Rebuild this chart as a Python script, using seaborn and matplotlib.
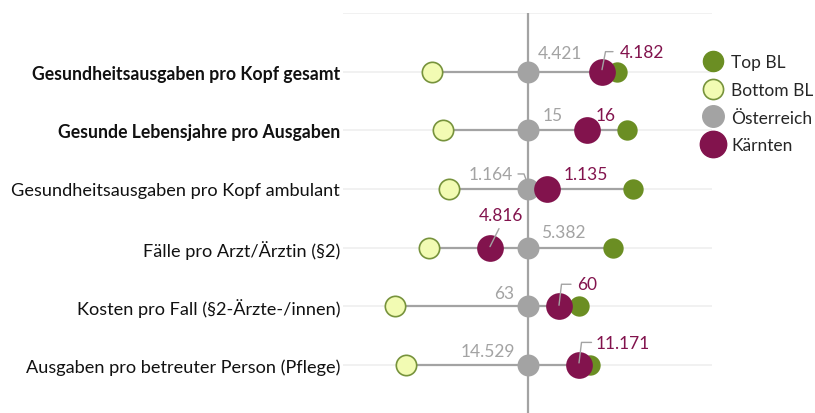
import numpy as np
import pandas as pd
import seaborn as sns
import matplotlib.pyplot as plt
from matplotlib.lines import Line2D

# indicators (top to bottom)
indicators = [
    "Gesundheitsausgaben pro Kopf gesamt",
    "Gesunde Lebensjahre pro Ausgaben",
    "Gesundheitsausgaben pro Kopf ambulant",
    "Fälle pro Arzt/Ärztin (§2)",
    "Kosten pro Fall (§2-Ärzte-/innen)",
    "Ausgaben pro betreuter Person (Pflege)",
]
bold_rows = [True, True, False, False, False, False]

# relative position vs. Austria (Österreich = 0)
top_bl = [89, 99, 105, 85, 51, 62]
bottom_bl = [-96, -85, -79, -99, -133, -122]
oesterreich = [0, 0, 0, 0, 0, 0]
kaernten = [74, 59, 19, -38, 31, 51]

# value labels
oe_labels = ["4.421", "15", "1.164", "5.382", "63", "14.529"]
kt_labels = ["4.182", "16", "1.135", "4.816", "60", "11.171"]

pos = np.arange(1, len(indicators) + 1)
df = pd.DataFrame({"row": pos, "top": top_bl, "bottom": bottom_bl,
                   "oe": oesterreich, "kt": kaernten})

sns.set_style("white")
plt.rcParams["font.family"] = ["Lato", "DejaVu Sans"]

GREEN = "#6b8e23"
LIGHT = "#f2fbb3"
LIGHT_EDGE = "#77933c"
GREY = "#a3a3a3"
PURPLE = "#82134d"

fig = plt.figure(figsize=(8.15, 4.14), dpi=100)
ax = fig.add_axes([343 / 815, 0, 369 / 815, 1 - 14 / 414])
ax.set_xlim(-185, 184)
ax.set_ylim(6.82, 0)

# grid lines
for g in range(0, 7):
    ax.axhline(g, color="#efefef", lw=1.2, zorder=0)
ax.axvline(0, color=GREY, lw=1.6, zorder=1)

# range lines
lo = df[["top", "bottom", "oe", "kt"]].min(axis=1)
hi = df[["top", "bottom", "oe", "kt"]].max(axis=1)
ax.hlines(df["row"], lo, hi, color=GREY, lw=1.6, zorder=1)

sns.scatterplot(data=df, x="bottom", y="row", color=LIGHT, edgecolor=LIGHT_EDGE,
                linewidth=1.2, s=215, ax=ax, zorder=3)
sns.scatterplot(data=df, x="top", y="row", color=GREEN, edgecolor=GREEN,
                linewidth=0, s=215, ax=ax, zorder=3)
sns.scatterplot(data=df, x="oe", y="row", color=GREY, edgecolor=GREY,
                linewidth=0, s=250, ax=ax, zorder=4)
sns.scatterplot(data=df, x="kt", y="row", color=PURPLE, edgecolor=PURPLE,
                linewidth=0, s=370, ax=ax, zorder=5)

# label offsets in pixels (dx, dy up) and leader lines
oe_off = [(32, 19), (25, 15), (-37, 15), (35, 16), (-24, 13), (-40, 14)]
kt_off = [(40, 20), (19, 15), (39, 15), (11, 33), (28, 22), (44, 22)]
kt_lead = {
    0: [(0, 2), (3.5, 20), (11, 20)],
    3: [(0, 1), (9, 19)],
    4: [(0, 1), (2.5, 22), (12, 22)],
    5: [(0, 2), (2.5, 22.5), (12.5, 22.5)],
}
oe_lead = {2: [(-10, 15), (-4, 15), (0, 4)]}

for i in range(len(indicators)):
    ax.annotate(oe_labels[i], (df["oe"][i], df["row"][i]), xytext=oe_off[i],
                textcoords="offset pixels", ha="center", va="center",
                color=GREY, fontsize=12.5, zorder=6)
    ax.annotate(kt_labels[i], (df["kt"][i], df["row"][i]), xytext=kt_off[i],
                textcoords="offset pixels", ha="center", va="center",
                color=PURPLE, fontsize=12.5, zorder=6)

fig.canvas.draw()
def leader(x, y, pts, color):
    px, py = ax.transData.transform((x, y))
    xs = [px + dx for dx, dy in pts]
    ys = [py + dy for dx, dy in pts]
    ax.add_line(Line2D(xs, ys, transform=None, color=color, lw=1.0, zorder=6))

for i, pts in kt_lead.items():
    leader(df["kt"][i], df["row"][i], pts, GREY)
for i, pts in oe_lead.items():
    leader(df["oe"][i], df["row"][i], pts, GREY)

ax.set_yticks(pos)
ax.set_yticklabels(indicators, fontsize=13.1, color="#111111")
for lab, b in zip(ax.get_yticklabels(), bold_rows):
    if b:
        lab.set_fontweight("bold")
        lab.set_fontsize(12.7)
ax.tick_params(axis="y", length=0, pad=2)
ax.set_xticks([])
ax.set_xlabel("")
ax.set_ylabel("")
sns.despine(ax=ax, left=True, bottom=True)

handles = [
    Line2D([], [], ls="", marker="o", ms=14.5, mfc=GREEN, mec=GREEN),
    Line2D([], [], ls="", marker="o", ms=14.5, mfc=LIGHT, mec=LIGHT_EDGE, mew=1.2),
    Line2D([], [], ls="", marker="o", ms=15.5, mfc=GREY, mec=GREY),
    Line2D([], [], ls="", marker="o", ms=19, mfc=PURPLE, mec=PURPLE),
]
fig.legend(handles, ["Top BL", "Bottom BL", "Österreich", "Kärnten"],
           loc="upper left", bbox_to_anchor=(694 / 815, 1 - 48 / 414),
           frameon=False, fontsize=12.5, labelspacing=0.68,
           handletextpad=0.35, handlelength=1.4, borderaxespad=0)

fig.savefig("out.png", dpi=100)
